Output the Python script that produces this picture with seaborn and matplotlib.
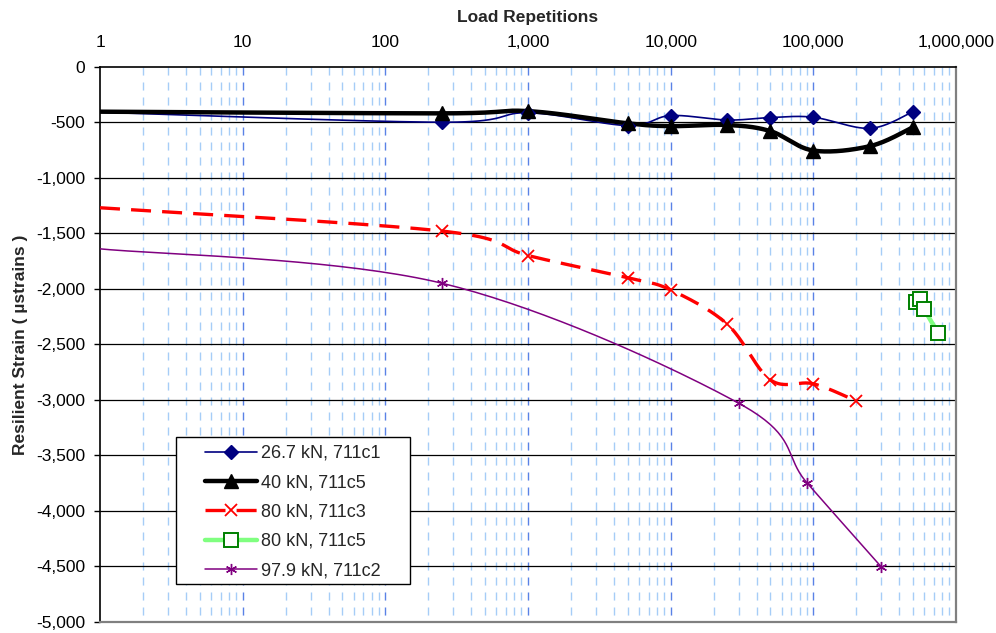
import numpy as np
import pandas as pd
import matplotlib
matplotlib.use("Agg")
import matplotlib.pyplot as plt
from matplotlib.lines import Line2D
from matplotlib.patches import Rectangle
from matplotlib.ticker import FuncFormatter, FixedLocator
import seaborn as sns

# Load repetitions and resilient strain (microstrains) per test series
reps_711c1 = [1, 250, 1000, 5000, 10000, 25000, 50000, 100000, 250000, 500000]
strain_711c1 = [-410, -500, -415, -530, -440, -480, -458, -455, -555, -405]

reps_711c5_40 = [1, 250, 1000, 5000, 10000, 25000, 50000, 100000, 250000, 500000]
strain_711c5_40 = [-405, -420, -400, -510, -535, -525, -580, -755, -715, -545]

reps_711c3 = [1, 250, 1000, 5000, 10000, 25000, 50000, 100000, 200000]
strain_711c3 = [-1270, -1480, -1700, -1900, -2010, -2320, -2820, -2855, -3010]

reps_711c5_80 = [525000, 555000, 595000, 750000]
strain_711c5_80 = [-2120, -2090, -2180, -2400]

reps_711c2 = [1, 250, 30000, 90000, 300000]
strain_711c2 = [-1640, -1950, -3030, -3745, -4505]

labels = ["26.7 kN, 711c1", "40 kN, 711c5", "80 kN, 711c3", "80 kN, 711c5", "97.9 kN, 711c2"]

y_ticks = list(range(-5000, 1, 500))
x_ticks = [1, 10, 100, 1000, 10000, 100000, 1000000]

sns.set_theme(style="white")
plt.rcParams["font.family"] = ["Liberation Sans", "DejaVu Sans"]
plt.rcParams["lines.scale_dashes"] = False

FS = 12.5
LEG_FS = 13

W, H = 996, 633
AX_L, AX_R, AX_T, AX_B = 100, 956, 66.7, 622

fig = plt.figure(figsize=(W / 100, H / 100), dpi=100)
ax = fig.add_axes([AX_L / W, 1 - AX_B / H, (AX_R - AX_L) / W, (AX_B - AX_T) / H])

ax.set_xscale("log")
ax.set_xlim(1, 1e6)
ax.set_ylim(-5000, 0)

# display-like scaling used for curve smoothing (pixels per decade / per unit)
PX_DEC = (AX_R - AX_L) / 6
PX_UNIT = (AX_B - AX_T) / 5000


def smooth(xs, ys, n=40):
    u = np.log10(np.asarray(xs, float)) * PX_DEC
    v = np.asarray(ys, float) * PX_UNIT
    P = np.c_[u, v]
    P = np.vstack([P[0], P, P[-1]])
    out = []
    t = np.linspace(0, 1, n)[:, None]
    for i in range(1, len(P) - 2):
        p0, p1, p2, p3 = P[i - 1], P[i], P[i + 1], P[i + 2]
        c1 = p1 + (p2 - p0) / 6
        c2 = p2 - (p3 - p1) / 6
        seg = (1 - t) ** 3 * p1 + 3 * (1 - t) ** 2 * t * c1 + 3 * (1 - t) * t ** 2 * c2 + t ** 3 * p2
        out.append(seg if i == 1 else seg[1:])
    S = np.vstack(out)
    return 10 ** (S[:, 0] / PX_DEC), S[:, 1] / PX_UNIT


# gridlines
minor_x = [m * 10 ** d for d in range(6) for m in range(2, 10)]
ax.vlines(minor_x, 0, -5000, colors="#a6cdf7", linewidth=1.0,
          linestyles=[(0, (5.8, 5.0))], zorder=1)
ax.vlines(x_ticks[1:-1], 0, -5000, colors="#5a82e6", linewidth=1.0,
          linestyles=[(0, (5.8, 5.0))], zorder=1)
ax.hlines(y_ticks[1:-1], 1, 1e6, colors="black", linewidth=0.9, zorder=1)

series = [
    dict(x=reps_711c1, y=strain_711c1, color="#000080", lw=1.2, ls="-",
         marker="D", ms=7, mfc="#000080", mec="#000080", mew=1, smooth=True),
    dict(x=reps_711c5_40, y=strain_711c5_40, color="black", lw=3.2, ls="-",
         marker="^", ms=9.5, mfc="black", mec="black", mew=1, smooth=True),
    dict(x=reps_711c3, y=strain_711c3, color="#ff0000", lw=2.4, ls=(0, (14.4, 8.0)),
         marker="x", ms=8.5, mfc="#ff0000", mec="#ff0000", mew=1.3, smooth=True),
    dict(x=reps_711c5_80, y=strain_711c5_80, color="#80ff80", lw=3.2, ls="-",
         marker="s", ms=10.5, mfc="white", mec="#008000", mew=1.4, smooth=False),
    dict(x=reps_711c2, y=strain_711c2, color="#800080", lw=1.1, ls="-",
         marker=(6, 2, 0), ms=8, mfc="#800080", mec="#800080", mew=1.0, smooth=True),
]

handles = []
for s, lab in zip(series, labels):
    if s["smooth"]:
        cx, cy = smooth(s["x"], s["y"])
    else:
        cx, cy = np.asarray(s["x"], float), np.asarray(s["y"], float)
    df = pd.DataFrame({"reps": cx, "strain": cy})
    sns.lineplot(data=df, x="reps", y="strain", sort=False, estimator=None,
                 color=s["color"], linewidth=s["lw"], linestyle=s["ls"], ax=ax,
                 zorder=3)
    mx = np.asarray(s["x"], float)
    my = np.asarray(s["y"], float)
    keep = mx > 1
    ax.plot(mx[keep], my[keep], linestyle="none", marker=s["marker"], markersize=s["ms"],
            markerfacecolor=s["mfc"], markeredgecolor=s["mec"], markeredgewidth=s["mew"],
            zorder=4, clip_on=False)
    handles.append(Line2D([], [], color=s["color"], linewidth=s["lw"], linestyle=s["ls"],
                          marker=s["marker"], markersize=s["ms"], markerfacecolor=s["mfc"],
                          markeredgecolor=s["mec"], markeredgewidth=s["mew"]))

# axes styling
ax.xaxis.tick_top()
ax.xaxis.set_label_position("top")
ax.xaxis.set_major_locator(FixedLocator(x_ticks))
ax.xaxis.set_minor_locator(FixedLocator([]))
ax.xaxis.set_major_formatter(FuncFormatter(lambda v, p: f"{int(round(v)):,}"))
ax.yaxis.set_major_locator(FixedLocator(y_ticks))
ax.yaxis.set_major_formatter(FuncFormatter(lambda v, p: f"{int(round(v)):,}"))
ax.tick_params(axis="x", which="both", length=0, pad=12, labelsize=FS, colors="black")
ax.tick_params(axis="y", length=4.5, width=1, pad=6, labelsize=FS, colors="black",
               direction="out", left=True)
ax.set_xlabel("Load Repetitions", fontsize=FS, fontweight="bold", labelpad=9.5)
ax.set_ylabel("Resilient Strain ( µstrains )", fontsize=FS, fontweight="bold", labelpad=6)

ax.grid(False)
for side in ["top", "left"]:
    ax.spines[side].set_color("black")
    ax.spines[side].set_linewidth(1.2)
for side in ["bottom", "right"]:
    ax.spines[side].set_color("#808080")
    ax.spines[side].set_linewidth(1.6)
    ax.spines[side].set_visible(True)


def ax_frac(px, py):
    return (px - AX_L) / (AX_R - AX_L), (AX_B - py) / (AX_B - AX_T)


# legend box with wide side margins
bx0, by0 = ax_frac(176, 584)
bx1, by1 = ax_frac(410, 437)
ax.add_patch(Rectangle((bx0, by0), bx1 - bx0, by1 - by0, transform=ax.transAxes,
                       facecolor="white", edgecolor="black", linewidth=1.0, zorder=5,
                       clip_on=False))
lx, ly = ax_frac(205, 445)
leg = ax.legend(handles, labels, loc="upper left", bbox_to_anchor=(lx, ly),
                borderaxespad=0, borderpad=0, frameon=False,
                fontsize=LEG_FS, handlelength=2.88, handletextpad=0.2, labelspacing=0.68)
leg.set_zorder(6)

fig.savefig("out.png", dpi=100, facecolor="white")
